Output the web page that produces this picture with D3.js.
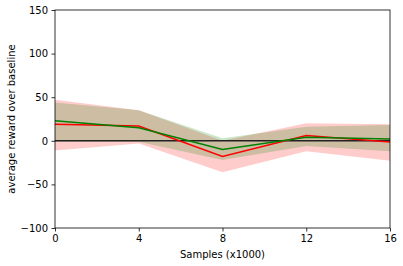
<!DOCTYPE html>
<html>
<head>
<meta charset="utf-8">
<script src="https://cdn.jsdelivr.net/npm/d3@7"></script>
<style>
  body { margin: 0; background: #fff; }
  text { font-family: "DejaVu Sans", sans-serif; }
</style>
</head>
<body>
<div id="chart"></div>
<script>
// samples (x1000)
const samples = [0, 4, 8, 12, 16];
const xTicks = [0, 4, 8, 12, 16];
const yTicks = [-100, -50, 0, 50, 100, 150];

// red run: mean and band
const redMean = [19, 17, -18, 6, -1.5];
const redUpper = [47, 35, 0, 20, 19];
const redLower = [-11, -3, -36, -12, -23];

// green run: mean and band
const greenMean = [23, 15, -10, 4, 2];
const greenUpper = [44, 35, 3, 16, 18];
const greenLower = [-1, -1, -22, -6, -12];

const W = 403, H = 266;
const margin = { top: 10, right: 13, bottom: 38, left: 55 };
const width = W - margin.left - margin.right;
const height = H - margin.top - margin.bottom;

const svg = d3.select("#chart").append("svg")
    .attr("width", W)
    .attr("height", H)
  .append("g")
    .attr("transform", `translate(${margin.left},${margin.top})`);

const x = d3.scaleLinear().domain([0, 16]).range([0, width]);
const y = d3.scaleLinear().domain([-100, 150]).range([height, 0]);

const area = (up, lo) => d3.area()
    .x((d, i) => x(samples[i]))
    .y0((d, i) => y(lo[i]))
    .y1((d, i) => y(up[i]))(samples);

const line = vals => d3.line()
    .x((d, i) => x(samples[i]))
    .y((d, i) => y(vals[i]))(samples);

// bands (green drawn over red)
svg.append("path")
    .attr("d", area(redUpper, redLower))
    .attr("fill", "red")
    .attr("fill-opacity", 0.2);
svg.append("path")
    .attr("d", area(greenUpper, greenLower))
    .attr("fill", "green")
    .attr("fill-opacity", 0.2);

// baseline at zero
svg.append("line")
    .attr("x1", 0).attr("x2", width)
    .attr("y1", y(0)).attr("y2", y(0))
    .attr("stroke", "#222")
    .attr("stroke-width", 1.5);

// lines
svg.append("path")
    .attr("d", line(redMean))
    .attr("fill", "none")
    .attr("stroke", "red")
    .attr("stroke-width", 1.5);
svg.append("path")
    .attr("d", line(greenMean))
    .attr("fill", "none")
    .attr("stroke", "green")
    .attr("stroke-width", 1.5);

// axes
const xAxis = svg.append("g")
    .attr("transform", `translate(0,${height})`)
    .call(d3.axisBottom(x).tickValues(xTicks).tickSize(3.5).tickPadding(3.5).tickSizeOuter(0));
const yAxis = svg.append("g")
    .call(d3.axisLeft(y).tickValues(yTicks).tickSize(3.5).tickPadding(3.5).tickSizeOuter(0)
      .tickFormat(d => d < 0 ? "\u2212" + Math.abs(d) : d));

[xAxis, yAxis].forEach(a => {
  a.select(".domain").remove();
  a.selectAll("text").attr("font-size", 10).attr("fill", "#000")
    .style("font-family", "DejaVu Sans, sans-serif");
  a.selectAll("line").attr("stroke", "#000").attr("stroke-width", 0.8);
});

// frame
svg.append("rect")
    .attr("width", width)
    .attr("height", height)
    .attr("fill", "none")
    .attr("stroke", "#000")
    .attr("stroke-width", 0.8);

// labels
svg.append("text")
    .attr("text-anchor", "middle")
    .attr("x", width / 2)
    .attr("y", height + 30)
    .attr("font-size", 10)
    .text("Samples (x1000)");

svg.append("text")
    .attr("text-anchor", "middle")
    .attr("transform", "rotate(-90)")
    .attr("x", -height / 2)
    .attr("y", -margin.left + 15)
    .attr("font-size", 10)
    .text("average reward over baseline");
</script>
</body>
</html>
